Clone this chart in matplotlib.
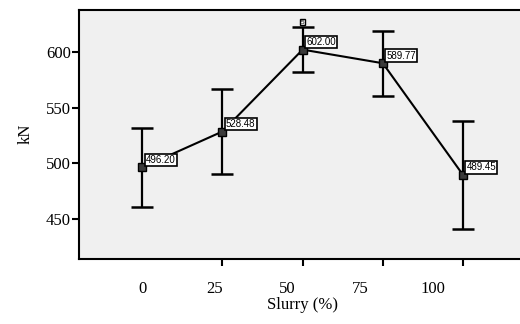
import matplotlib
matplotlib.use('Agg')
import matplotlib.pyplot as plt

# slurry share vs. mean load, error bars
slurry = [0, 25, 50, 75, 100]
mean_kn = [496.20, 528.48, 602.00, 589.77, 489.45]
err_kn = [35.5, 38.0, 20.0, 29.0, 48.6]
labels = ["496.20", "528.48", "602.00", "589.77", "489.45"]
tick_text = ["0", "25", "50", "75", "100"]

fig = plt.figure(figsize=(5.2, 3.24), dpi=100)
ax = fig.add_axes([0.152, 0.2006, 0.86, 0.770])
ax.set_facecolor('#f0f0f0')

ax.errorbar(slurry, mean_kn, yerr=err_kn, fmt='none', ecolor='black',
            elinewidth=1.6, capsize=8, capthick=1.8, zorder=2)
ax.plot(slurry, mean_kn, color='black', linewidth=1.5, zorder=3)
ax.plot(slurry, mean_kn, linestyle='none', marker='s', markersize=5.5,
        markerfacecolor='#3a3a3a', markeredgecolor='black', markeredgewidth=1.0, zorder=4)

for x, y, s in zip(slurry, mean_kn, labels):
    ax.annotate(s, xy=(x, y), xytext=(2.5, 5.5), textcoords='offset points',
                ha='left', va='center', fontsize=7, family='Liberation Sans',
                bbox=dict(boxstyle='square,pad=0.12', fc='white', ec='black', lw=1.2),
                zorder=5)

# small case label sitting on the top cap at 50 %
ax.text(slurry[2], mean_kn[2] + err_kn[2] + 2.5, "5", ha='center', va='bottom',
        fontsize=4.5, family='Liberation Sans',
        bbox=dict(boxstyle='square,pad=0.15', fc='white', ec='black', lw=1.0), zorder=5)

ax.set_xlim(-19.7, 119.7)
ax.set_ylim(414, 638)

# tick marks at the data, labels drift left as in the original
ax.set_xticks(slurry, minor=True)
ax.set_xticks([v * 0.905 for v in slurry])
ax.set_xticklabels(tick_text)
ax.tick_params(axis='x', which='major', length=0, pad=16)
ax.tick_params(axis='x', which='minor', length=5, width=1.5, direction='out')
ax.set_yticks([450, 500, 550, 600])
ax.tick_params(axis='y', length=5, width=1.5, direction='out', pad=1)

for lab in ax.get_xticklabels() + ax.get_yticklabels():
    lab.set_family('Liberation Serif')
    lab.set_fontsize(12)

for sp in ax.spines.values():
    sp.set_linewidth(1.5)

ax.set_xlabel("Slurry (%)", family='Liberation Serif', fontsize=12, labelpad=0)
ax.set_ylabel("kN", family='Liberation Serif', fontsize=12, labelpad=9)

fig.savefig("out.png", dpi=100, facecolor='white')
